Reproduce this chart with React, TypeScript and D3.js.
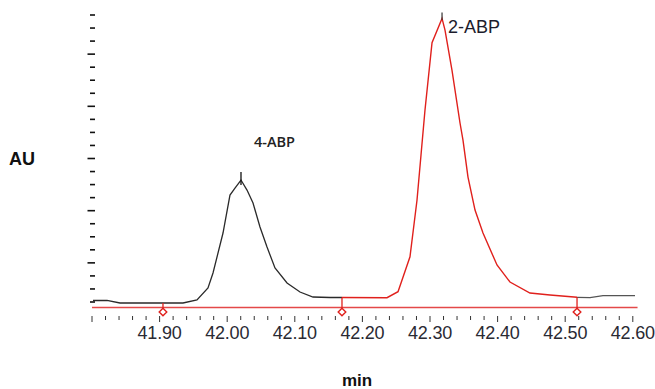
import React from "react";
import * as d3 from "d3";

// Chromatogram traces (time in min, response in AU tick units)
const blackTime = [41.8015, 41.8222, 41.8414, 41.9346, 41.9553, 41.9716, 41.979, 41.9938, 42.0041, 42.0115, 42.0204, 42.0293, 42.0382, 42.0485, 42.0589, 42.0707, 42.0885, 42.1077, 42.1269, 42.1521, 42.1698];
const blackValue = [0.115, 0.13, -0.077, -0.077, 0.153, 1.073, 2.222, 5.287, 8.199, 8.736, 9.349, 8.582, 7.586, 5.747, 4.215, 2.605, 1.456, 0.766, 0.383, 0.345, 0.345];

const redTime = [42.1698, 42.2364, 42.2527, 42.2704, 42.2808, 42.2867, 42.2926, 42.303, 42.3178, 42.3222, 42.3325, 42.3444, 42.3488, 42.3562, 42.3666, 42.3784, 42.3991, 42.4183, 42.4479, 42.4775, 42.5175];
const redValue = [0.345, 0.33, 0.789, 3.471, 7.816, 11.264, 14.713, 19.87, 21.74, 20.84, 17.78, 13.72, 12.41, 9.58, 7.05, 5.29, 2.835, 1.533, 0.69, 0.536, 0.36];

const tailTime = [42.5175, 42.5367, 42.5559, 42.6033];
const tailValue = [0.36, 0.33, 0.483, 0.483];

const peakNames = ["4-ABP", "2-ABP"];
const peakTimes = [42.0204, 42.3178];
const peakValues = [9.349, 21.74];

const markerTimes = [41.905, 42.1698, 42.5175];
const markerTraceValues = [-0.077, 0.345, 0.36];
const baselineValue = -0.42;
const markerValue = -0.77;

const xTickLabels = ["41.90", "42.00", "42.10", "42.20", "42.30", "42.40", "42.50", "42.60"];
const yTickValues = d3.range(0, 23);

const W = 655;
const H = 389;

export default function App() {
  const x = d3.scaleLinear().domain([41.8, 42.6]).range([92, 632.8]);
  const y = d3.scaleLinear().domain([0, 22]).range([302, 15]);

  const line = d3
    .line<[number, number]>()
    .x((d) => x(d[0]))
    .y((d) => y(d[1]));

  const blackPts = blackTime.map((t, i) => [t, blackValue[i]] as [number, number]);
  const redPts = redTime.map((t, i) => [t, redValue[i]] as [number, number]);
  const tailPts = tailTime.map((t, i) => [t, tailValue[i]] as [number, number]);

  const minorX = d3.range(0, 41).map((i) => 41.8 + i * 0.02);

  return (
    <svg
      width={W}
      height={H}
      style={{ position: "absolute", left: 0, top: 0, background: "#fff" }}
      fontFamily="'Liberation Sans', Arial, sans-serif"
    >
      {/* Y ticks */}
      {yTickValues.map((v) => {
        const major = v % 4 === 3;
        return (
          <line
            key={"yt" + v}
            x1={major ? 87.5 : 90}
            x2={95}
            y1={y(v)}
            y2={y(v)}
            stroke="#111"
            strokeWidth={1.6}
          />
        );
      })}

      {/* baseline */}
      <line
        x1={x(41.8)}
        x2={x(42.607)}
        y1={y(baselineValue)}
        y2={y(baselineValue)}
        stroke="#e02a2a"
        strokeWidth={1.5}
        opacity={0.85}
      />

      {/* X ticks */}
      {minorX.map((t, i) => {
        const major = i % 5 === 0;
        return (
          <line
            key={"xt" + i}
            x1={x(t)}
            x2={x(t)}
            y1={316}
            y2={major ? 322 : 320}
            stroke="#333"
            strokeWidth={1}
          />
        );
      })}
      {xTickLabels.map((l) => (
        <text
          key={l}
          x={x(+l)}
          y={339}
          textAnchor="middle"
          fontSize={18}
          letterSpacing={-0.2}
          fill="#2a2a33"
        >
          {l}
        </text>
      ))}

      {/* traces */}
      <path d={line(blackPts) || ""} fill="none" stroke="#2a2a2a" strokeWidth={1.3} />
      <path d={line(tailPts) || ""} fill="none" stroke="#555" strokeWidth={1.3} />
      <path d={line(redPts) || ""} fill="none" stroke="#e0201c" strokeWidth={1.4} />

      {/* peak apex ticks */}
      <line x1={x(peakTimes[0])} x2={x(peakTimes[0])} y1={172} y2={185} stroke="#111" strokeWidth={1.3} />
      <line x1={x(peakTimes[1])} x2={x(peakTimes[1])} y1={12.5} y2={20} stroke="#333" strokeWidth={1.2} />

      {/* integration markers */}
      {markerTimes.map((t, i) => (
        <g key={"m" + i}>
          <line
            x1={x(t)}
            x2={x(t)}
            y1={y(markerTraceValues[i])}
            y2={y(markerValue) - 3}
            stroke="#e0201c"
            strokeWidth={1.3}
          />
          <path
            d={`M${x(t)},${y(markerValue) - 3.8}L${x(t) + 3.8},${y(markerValue)}L${x(t)},${y(markerValue) + 3.8}L${x(t) - 3.8},${y(markerValue)}Z`}
            fill="#fff"
            stroke="#e0201c"
            strokeWidth={1.4}
          />
        </g>
      ))}

      {/* peak labels */}
      <text x={254} y={146.5} fontSize={14.5} fontWeight={600} fontFamily="'Open Sans', sans-serif" fill="#222">
        {peakNames[0]}
      </text>
      <text x={x(peakTimes[1]) + 6} y={33} fontSize={18} fill="#1c1c2c">
        {peakNames[1]}
      </text>

      {/* axis titles */}
      <text x={9} y={165} fontSize={18} fontWeight="bold" fill="#111">
        AU
      </text>
      <text x={357} y={386} fontSize={17} fontWeight="bold" textAnchor="middle" fill="#111">
        min
      </text>
    </svg>
  );
}
